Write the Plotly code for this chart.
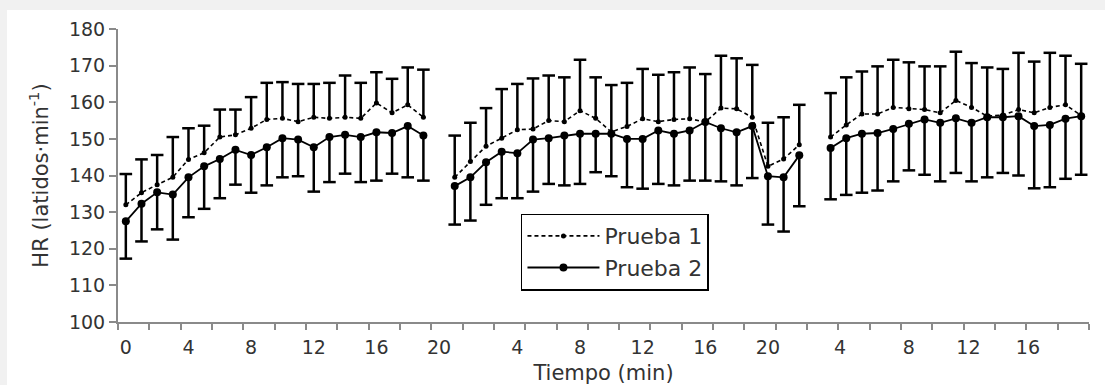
import plotly.graph_objects as go

# ---------------- data ----------------
# Three exercise blocks; minutes within each block
seg1_min = list(range(0, 20))
seg2_min = list(range(0, 23))
seg3_min = list(range(0, 17))

# Prueba 1 (mean and top of +SD bar)
p1_seg1 = [132.0, 135.3, 137.5, 139.5, 144.4, 146.2, 150.5, 151.1, 152.9, 155.3,
           155.6, 154.7, 155.9, 155.6, 155.9, 155.6, 159.8, 157.1, 159.3, 155.9]
p1_seg1_up = [140.4, 144.4, 145.6, 150.5, 152.9, 153.6, 158.0, 158.0, 161.4, 165.3,
              165.5, 165.0, 165.0, 165.3, 167.3, 165.3, 168.2, 166.4, 169.5, 168.9]
p1_seg2 = [139.5, 143.8, 148.0, 150.2, 152.5, 152.7, 155.0, 154.7, 157.7, 155.6,
           151.9, 153.4, 155.5, 154.7, 155.3, 155.5, 154.6, 158.4, 158.2, 155.9,
           142.5, 144.5, 148.4]
p1_seg2_up = [150.9, 154.4, 158.4, 163.6, 165.0, 166.5, 167.3, 166.8, 171.6, 166.8,
              164.7, 165.3, 169.1, 167.5, 168.2, 169.5, 167.7, 172.7, 172.0, 170.2,
              154.4, 155.9, 159.3]
p1_seg3 = [150.5, 153.8, 156.8, 156.8, 158.6, 158.2, 158.0, 157.1, 160.5, 158.6,
           156.2, 156.5, 158.0, 157.1, 158.6, 159.3, 156.4]
p1_seg3_up = [162.5, 166.8, 168.4, 169.8, 171.6, 170.9, 169.8, 169.8, 173.8, 170.7,
              169.5, 169.1, 173.5, 171.1, 173.5, 172.7, 170.5]

# Prueba 2 (mean and bottom of -SD bar)
p2_seg1 = [127.5, 132.3, 135.4, 134.8, 139.5, 142.5, 144.5, 147.0, 145.6, 147.7,
           150.2, 149.8, 147.7, 150.5, 151.1, 150.5, 151.8, 151.6, 153.5, 150.9]
p2_seg1_lo = [117.3, 122.0, 125.3, 122.5, 128.6, 130.9, 133.8, 137.5, 135.3, 137.3,
              139.5, 139.8, 135.6, 138.2, 140.5, 138.2, 138.6, 140.5, 139.5, 138.6]
p2_seg2 = [137.1, 139.5, 143.6, 146.5, 146.1, 149.8, 150.2, 150.9, 151.4, 151.4,
           151.4, 150.0, 150.0, 152.3, 151.4, 152.3, 154.6, 152.9, 151.8, 153.5,
           139.8, 139.5, 145.5]
p2_seg2_lo = [126.6, 127.7, 132.0, 133.8, 133.8, 135.6, 137.7, 137.3, 137.7, 140.9,
              139.8, 136.8, 136.4, 137.7, 137.3, 138.6, 138.6, 138.4, 137.3, 139.3,
              126.6, 124.7, 131.6]
p2_seg3 = [147.5, 150.2, 151.4, 151.6, 152.7, 154.1, 155.3, 154.4, 155.6, 154.4,
           155.9, 155.9, 156.2, 153.5, 153.8, 155.5, 156.2]
p2_seg3_lo = [133.5, 134.7, 135.3, 135.9, 138.4, 141.4, 140.2, 138.4, 140.7, 138.4,
              139.5, 140.7, 140.0, 136.5, 136.8, 139.1, 140.2]

# x-axis tick labels (positions on the chart's running category axis)
tick_pos = [0, 4, 8, 12, 16, 20, 25, 29, 33, 37, 41, 45.6, 50, 53.8, 57.6]
tick_text = ["0", "4", "8", "12", "16", "20", "4", "8", "12", "16", "20",
             "4", "8", "12", "16"]

# ---------------- build running positions with gaps ----------------
seg_offsets = [0, 21, 45]
segs_min = [seg1_min, seg2_min, seg3_min]


def join(parts):
    out = []
    for k, p in enumerate(parts):
        if k > 0:
            out.append(None)
        out.extend(p)
    return out


x = join([[off + m for m in mins] for off, mins in zip(seg_offsets, segs_min)])
p1 = join([p1_seg1, p1_seg2, p1_seg3])
p1_up = join([p1_seg1_up, p1_seg2_up, p1_seg3_up])
p2 = join([p2_seg1, p2_seg2, p2_seg3])
p2_lo = join([p2_seg1_lo, p2_seg2_lo, p2_seg3_lo])

p1_plus = [None if (a is None) else round(u - a, 2) for a, u in zip(p1, p1_up)]
p2_minus = [None if (a is None) else round(a - l, 2) for a, l in zip(p2, p2_lo)]
zeros = [None if a is None else 0 for a in p1]

FONT = "DejaVu Sans"
TXT = "#333333"
AX = "#8a8a8a"

fig = go.Figure()

# Prueba 1: upward SD bars
fig.add_trace(go.Scatter(
    x=x, y=p1, mode="lines+markers", name="Prueba 1",
    line=dict(color="black", width=1.6, dash="4px,3px"),
    marker=dict(color="black", size=5),
    error_y=dict(type="data", symmetric=False, array=p1_plus, arrayminus=zeros,
                 color="black", thickness=2.5, width=0),
    connectgaps=False,
))
fig.add_trace(go.Scatter(
    x=x, y=p1_up, mode="markers", showlegend=False, hoverinfo="skip",
    marker=dict(symbol="line-ew", size=9, line=dict(color="black", width=2.5)),
))

# Prueba 2: downward SD bars
fig.add_trace(go.Scatter(
    x=x, y=p2, mode="lines+markers", name="Prueba 2",
    line=dict(color="black", width=1.8),
    marker=dict(color="black", size=8),
    error_y=dict(type="data", symmetric=False, array=zeros, arrayminus=p2_minus,
                 color="black", thickness=2.5, width=0),
    connectgaps=False,
))
fig.add_trace(go.Scatter(
    x=x, y=p2_lo, mode="markers", showlegend=False, hoverinfo="skip",
    marker=dict(symbol="line-ew", size=9, line=dict(color="black", width=2.5)),
))

minor_ticks = [-0.5 + 2 * k for k in range(32)]

fig.update_layout(
    width=1105, height=385,
    margin=dict(l=118, r=16, t=29, b=63),
    paper_bgcolor="#f1f1f1",
    plot_bgcolor="white",
    font=dict(family=FONT, size=19, color=TXT),
    showlegend=True,
    legend=dict(
        x=0.415, y=0.37, xanchor="left", yanchor="top",
        bgcolor="white", bordercolor="black", borderwidth=1.5,
        font=dict(family=FONT, size=22, color=TXT),
        tracegroupgap=0, itemwidth=72,
    ),
    xaxis=dict(
        range=[-0.5, 61.5], showgrid=False, zeroline=False, automargin=False,
        showline=True, linecolor=AX, linewidth=2,
        tickmode="array", tickvals=tick_pos, ticktext=tick_text,
        ticks="outside", ticklen=7, tickcolor="rgba(0,0,0,0)",
        tickfont=dict(family=FONT, size=19, color=TXT),
        minor=dict(tickmode="array", tickvals=minor_ticks, ticks="outside",
                   ticklen=6, tickwidth=2, tickcolor=AX, showgrid=False),
        title=dict(text="Tiempo (min)", font=dict(family=FONT, size=21, color=TXT),
                   standoff=14),
    ),
    yaxis=dict(
        range=[100, 180], dtick=10, tick0=100, showgrid=False, zeroline=False,
        automargin=False,
        showline=True, linecolor=AX, linewidth=2,
        ticks="outside", ticklen=7, tickwidth=2, tickcolor=AX,
        tickfont=dict(family=FONT, size=19, color=TXT),
        title=dict(text="HR (latidos·min<sup>-1</sup>)",
                   font=dict(family=FONT, size=21, color=TXT), standoff=15),
    ),
    shapes=[dict(type="rect", xref="paper", yref="paper",
                 x0=-0.1143, x1=1.05, y0=-0.4, y1=1.0648,
                 fillcolor="white", line=dict(width=0), layer="below")],
)

fig.write_html("out.html")
